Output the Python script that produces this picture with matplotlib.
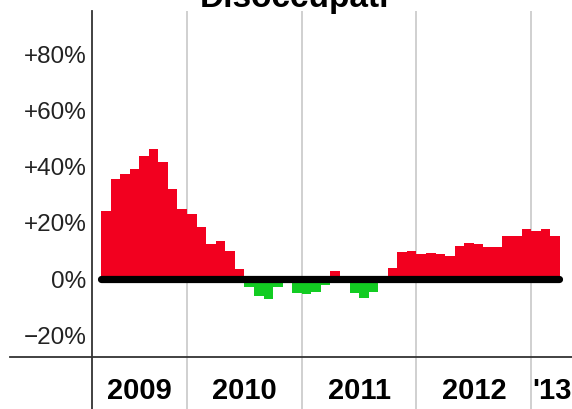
import matplotlib
matplotlib.use("Agg")
import matplotlib.pyplot as plt
from matplotlib.lines import Line2D

plt.rcParams["font.family"] = ["Liberation Sans", "DejaVu Sans"]

# monthly change, Apr 2009 .. Mar 2013 (%)
values = [24.3, 35.6, 37.4, 39.1, 43.9, 46.3, 41.5, 32.0, 24.9,
          23.1, 18.4, 12.5, 13.6, 10.1, 3.6, -2.8, -5.9, -7.1, -2.8, -0.3, -4.8,
          -5.2, -4.4, -2.0, 2.8, 0.3, -4.8, -6.5, -4.4, -1.4, 4.1, 9.8, 10.1,
          8.9, 9.5, 8.9, 8.3, 11.8, 13.0, 12.5, 11.3, 11.3, 15.4, 15.4, 17.8,
          17.2, 17.8, 15.4]
year_starts = [9, 21, 33, 45]          # month index where a new year begins
year_labels = ["2009", "2010", "2011", "2012", "'13"]
y_ticks = [-20, 0, 20, 40, 60, 80]
y_ticklabels = ["\u221220%", "0%", "+20%", "+40%", "+60%", "+80%"]

RED = "#f2001f"
GREEN = "#12cc22"
GRID = "#c8c8c8"

W, H = 572, 409
fig = plt.figure(figsize=(W / 100, H / 100), dpi=100)
fig.patch.set_facecolor("white")

left, top, mid = 92, 11, 357
x_lo, x_hi = -0.94, 49.27

ax = fig.add_axes([left / W, 1 - mid / H, (W - left) / W, (mid - top) / H])
ax.set_xlim(x_lo, x_hi)
ax.set_ylim(-27.6, 95.3)

xs = list(range(len(values)))
colors = [RED if v >= 0 else GREEN for v in values]
ax.bar(xs, values, width=1.0, align="edge", color=colors, linewidth=0, zorder=2)
ax.plot([0.05, len(values) - 0.05], [0, 0], color="black", lw=5.2,
        solid_capstyle="round", zorder=3)

for x in year_starts:
    ax.axvline(x, color=GRID, lw=1.2, zorder=1)

for s in ax.spines.values():
    s.set_visible(False)
ax.set_xticks([])
ax.set_yticks(y_ticks)
ax.set_yticklabels(y_ticklabels, fontsize=17.5, color="#222222")
ax.tick_params(axis="y", length=0, pad=4)

# bottom row with the year labels
ax2 = fig.add_axes([left / W, 0, (W - left) / W, (H - mid) / H])
ax2.set_xlim(x_lo, x_hi)
ax2.set_ylim(0, 1)
ax2.axis("off")
for x in year_starts:
    ax2.axvline(x, color=GRID, lw=1.2)
bounds = [x_lo] + year_starts + [x_hi]
for i, lab in enumerate(year_labels):
    cx = (bounds[i] + bounds[i + 1]) / 2
    ax2.text(cx, 0.34, lab, ha="center", va="center", fontsize=21,
             fontweight="bold", color="black")

# table-like lines
fig.add_artist(Line2D([10 / W, 1], [1 - mid / H] * 2, color="#333333", lw=1.3,
                      transform=fig.transFigure))
fig.add_artist(Line2D([left / W] * 2, [0, 1 - top / H], color="#333333", lw=1.3,
                      transform=fig.transFigure))

fig.text(295 / W, 1 - 7 / H, "Disoccupati", ha="center", va="baseline",
         fontsize=24, fontweight="bold")

fig.savefig("out.png", dpi=100)
